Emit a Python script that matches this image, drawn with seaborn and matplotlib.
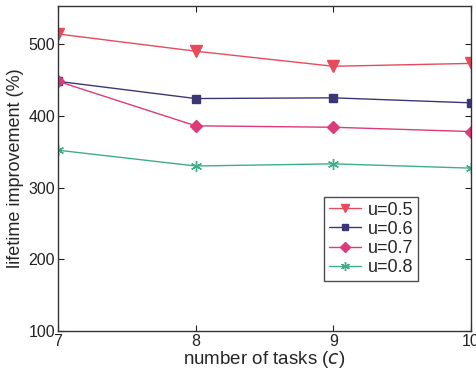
import numpy as np
import pandas as pd
import matplotlib
matplotlib.use("Agg")
import matplotlib.pyplot as plt
import seaborn as sns

tasks = [7, 8, 9, 10]
u05 = [514, 490, 469, 473]
u06 = [448, 424, 425, 418]
u07 = [448, 386, 384, 378]
u08 = [352, 330, 333, 327]
labels = ["u=0.5", "u=0.6", "u=0.7", "u=0.8"]

rows = []
for lab, vals in zip(labels, [u05, u06, u07, u08]):
    for t, v in zip(tasks, vals):
        rows.append({"c": t, "val": v, "series": lab})
df = pd.DataFrame(rows)

sns.set_theme(style="white")
plt.rcParams['font.family'] = ['Liberation Sans', 'DejaVu Sans']

fig = plt.figure(figsize=(4.76, 3.72), dpi=100)
ax = fig.add_axes([58/476, 1-331/372, (471-58)/476, (331-6)/372])

palette = {"u=0.5": "#e84a5c", "u=0.6": "#3b3775", "u=0.7": "#dc3a78", "u=0.8": "#3fae88"}
markers = {"u=0.5": "v", "u=0.6": "s", "u=0.7": "D", "u=0.8": (6, 2, 0)}
sizes_m = {"u=0.5": 8, "u=0.6": 6, "u=0.7": 6, "u=0.8": 8}

for lab in labels:
    sub = df[df.series == lab]
    sns.lineplot(data=sub, x="c", y="val", ax=ax, color=palette[lab],
                 marker=markers[lab], markersize=sizes_m[lab], linewidth=1.0,
                 markeredgecolor=palette[lab], markeredgewidth=1.0, label=lab)

ax.set_xlim(7, 10)
ax.set_ylim(100, 553)
ax.set_xticks(tasks)
ax.set_yticks([100, 200, 300, 400, 500])
ax.tick_params(direction="in", length=4, width=0.8, labelsize=11.5, top=True, right=True,
               bottom=True, left=True, pad=2, colors="#222222")
for s in ax.spines.values():
    s.set_color("#333333")
    s.set_linewidth(1.0)
ax.set_xlabel("number of tasks ($c$)", fontsize=13.5, labelpad=0)
ax.set_ylabel("lifetime improvement (%)", fontsize=13, labelpad=3)

leg = ax.legend(loc="upper left", bbox_to_anchor=((324-58)/413, 1-(197-6)/325),
                frameon=True, fancybox=False, fontsize=13, handlelength=1.8,
                borderpad=0.25, labelspacing=0.12, handletextpad=0.4, borderaxespad=0,
                markerscale=0.8)
leg.get_frame().set_edgecolor("#222222")
leg.get_frame().set_linewidth(1.0)

fig.savefig("out.png", dpi=100)
